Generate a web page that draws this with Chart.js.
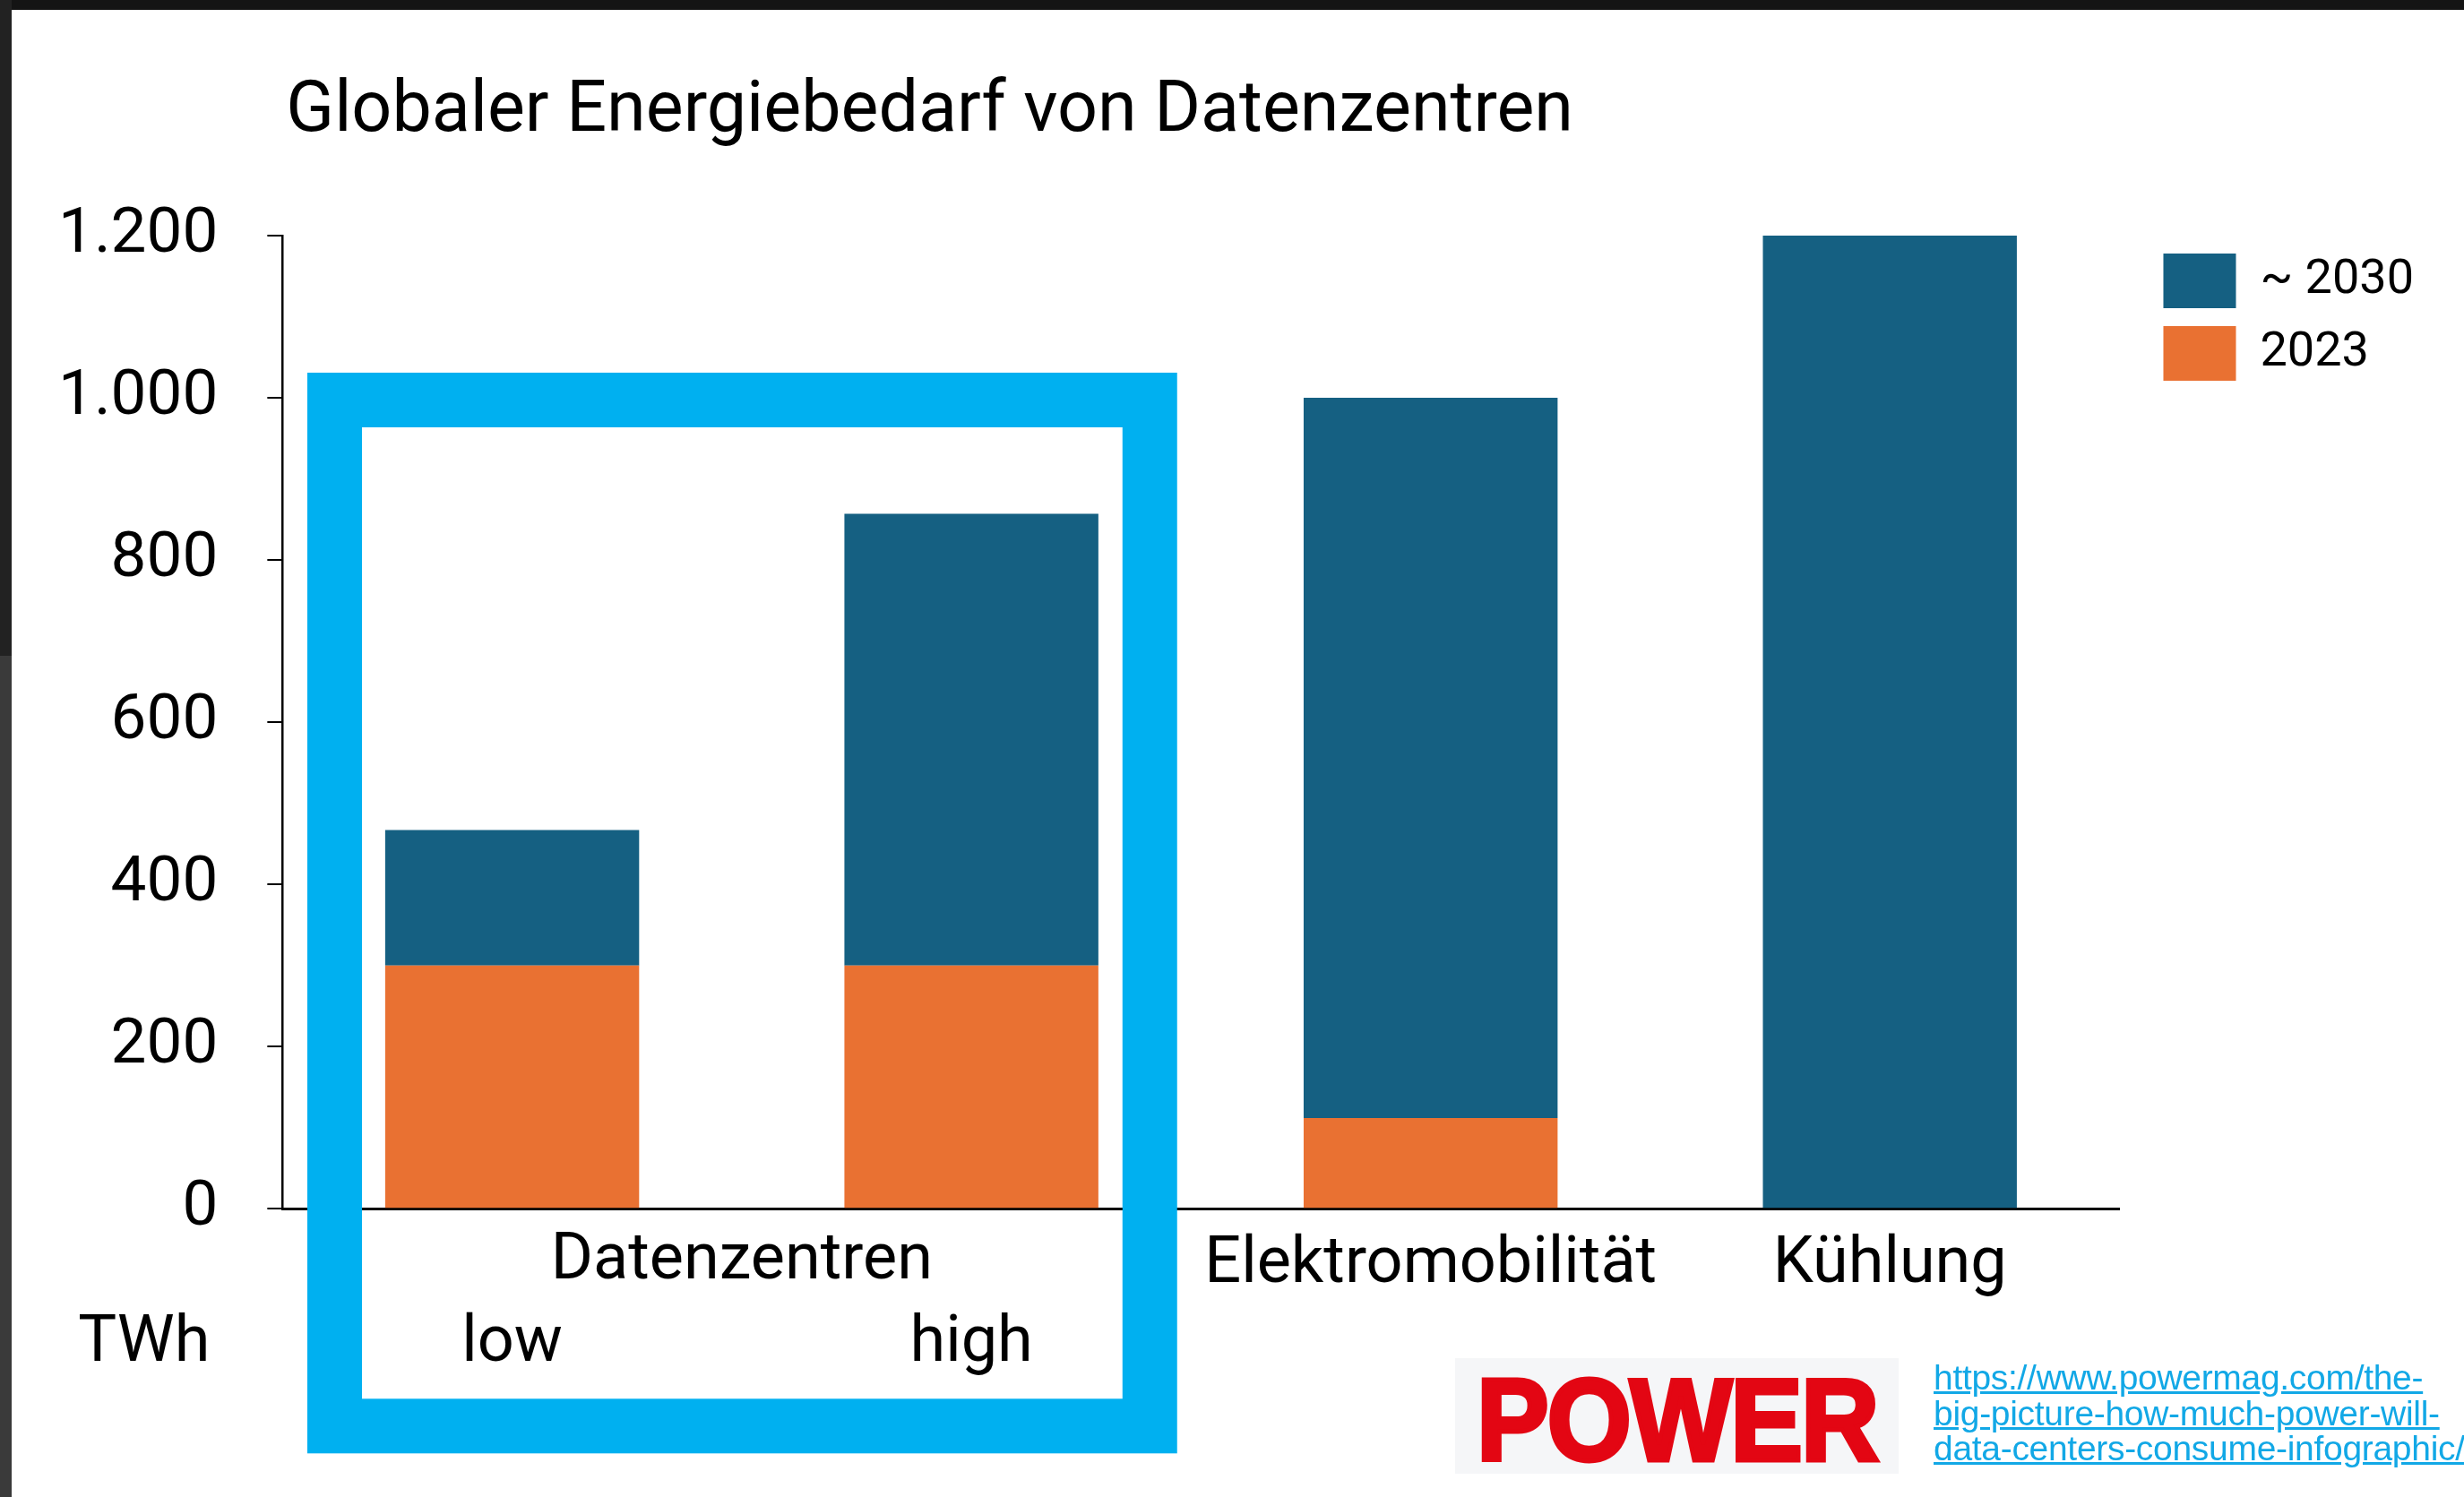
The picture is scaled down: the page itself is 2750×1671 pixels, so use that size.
<!DOCTYPE html>
<html lang="de">
<head>
<meta charset="utf-8">
<title>Globaler Energiebedarf von Datenzentren</title>
<script src="https://cdn.jsdelivr.net/npm/chart.js@4.4.1/dist/chart.umd.min.js"></script>
<style>
  html, body { margin: 0; padding: 0; background: #fff; }
  body { width: 2750px; height: 1671px; position: relative; overflow: hidden; }
  #chart { position: absolute; left: 0; top: 0; }
  .edge-top { position: absolute; left: 0; top: 0; width: 2750px; height: 11px; background: #141414; }
  .edge-left { position: absolute; left: 0; top: 0; width: 13px; height: 732px; background: #222; }
  .edge-left2 { position: absolute; left: 0; top: 732px; width: 13px; height: 939px; background: #3a3a3a; }
  #logo { position: absolute; left: 1624px; top: 1516px; width: 495px; height: 129px; background: #f5f6f8; overflow: hidden; }
  #logo span { position: absolute; left: 24px; top: -6px; font: bold 130px "Liberation Sans", Arial, sans-serif;
    color: #e30613; -webkit-text-stroke: 5px #e30613; transform: scaleX(0.93); transform-origin: left top; letter-spacing: -2px; }
  #src { position: absolute; left: 2158px; top: 1518px; font: 39px "Liberation Sans", Arial, sans-serif; line-height: 39.5px;
    color: #12a8e6; text-decoration: underline; white-space: nowrap; letter-spacing: -0.3px; }
</style>
</head>
<body>
<canvas id="chart" width="2750" height="1671"></canvas>
<div class="edge-top"></div>
<div class="edge-left"></div>
<div class="edge-left2"></div>
<div id="logo"><span>POWER</span></div>
<a id="src" href="https://www.powermag.com/the-big-picture-how-much-power-will-data-centers-consume-infographic/">https://www.powermag.com/the-<br>big-picture-how-much-power-will-<br>data-centers-consume-infographic/</a>
<script>
// === DATA ===
const title = "Globaler Energiebedarf von Datenzentren";
const categories = ["low", "high", "Elektromobilität", "Kühlung"];
const groupLabel = "Datenzentren";   // spans the first two categories
const unitLabel = "TWh";
const seriesNames = ["2023", "~ 2030"];
const values2023 = [300, 300, 112, 0];
const values2030 = [167, 557, 888, 1200]; // stacked on top of 2023
const yMax = 1200;
const yStep = 200;
// =============

const BLUE = "#156082";
const ORANGE = "#e97132";
const HIGHLIGHT = "#00b0f0";
const FONT = "Roboto";

Chart.defaults.font.family = FONT;
Chart.defaults.color = "#000";

function fmt(v) { return String(v).replace(/\B(?=(\d{3})+(?!\d))/g, "."); }

// title, group label, unit and highlight frame
const extras = {
  id: "extras",
  afterDraw(chart) {
    const { ctx, chartArea } = chart;
    const x = chart.scales.x, y = chart.scales.y;
    const catW = x.getPixelForValue(1) - x.getPixelForValue(0);
    ctx.save();

    ctx.fillStyle = "#000";
    ctx.textBaseline = "alphabetic";
    ctx.textAlign = "left";
    ctx.font = `79px ${FONT}`;
    ctx.fillText(title, chartArea.left + 4, chartArea.top - 117);

    const line1 = chartArea.bottom + 60;
    const line2 = line1 + 92;
    ctx.font = `72px ${FONT}`;
    ctx.textBaseline = "middle";
    ctx.textAlign = "center";
    ctx.fillText(groupLabel, (x.getPixelForValue(0) + x.getPixelForValue(1)) / 2, line1);
    ctx.textAlign = "right";
    ctx.fillText(unitLabel, chartArea.left - 81, line2);

    // highlight frame around the data centre bars
    const lw = 61;
    const left = x.getPixelForValue(0) - catW * 0.446;
    const right = x.getPixelForValue(1) + catW * 0.448;
    const top = y.getPixelForValue(1031);
    const bottom = chartArea.bottom + 273;
    ctx.strokeStyle = HIGHLIGHT;
    ctx.lineWidth = lw;
    ctx.strokeRect(left + lw / 2, top + lw / 2, right - left - lw, bottom - top - lw);
    ctx.restore();
  }
};

new Chart(document.getElementById("chart"), {
  type: "bar",
  data: {
    labels: categories,
    datasets: [
      { label: seriesNames[0], data: values2023, backgroundColor: ORANGE, borderWidth: 0 },
      { label: seriesNames[1], data: values2030, backgroundColor: BLUE, borderWidth: 0 }
    ]
  },
  options: {
    responsive: false,
    animation: false,
    datasets: { bar: { categoryPercentage: 1, barPercentage: 0.553 } },
    layout: { padding: { left: 10, top: 263, right: 46, bottom: 114 } },
    plugins: {
      title: { display: false },
      tooltip: { enabled: false },
      legend: {
        position: "right",
        align: "start",
        reverse: true,
        labels: { boxWidth: 81, boxHeight: 61, padding: 20, font: { size: 54 }, color: "#000" }
      }
    },
    scales: {
      x: {
        stacked: true,
        grid: { display: false },
        border: { display: true, color: "#000", width: 3 },
        ticks: {
          padding: 12,
          font: { size: 72, lineHeight: 1.22 },
          color: "#000",
          callback(value, i) { return i < 2 ? ["", categories[i]] : categories[i]; }
        }
      },
      y: {
        stacked: true,
        min: 0,
        max: yMax,
        grid: { drawOnChartArea: false, drawTicks: true, tickLength: 17, color: "#000", lineWidth: 2 },
        border: { display: true, color: "#000", width: 2.5 },
        ticks: { stepSize: yStep, padding: 55, font: { size: 71 }, color: "#000", callback: v => fmt(v) }
      },
      gap: {
        position: "right",
        display: true,
        grid: { display: false },
        border: { display: false },
        ticks: { display: false },
        afterFit(s) { s.width = 29; }
      }
    }
  },
  plugins: [extras]
});
</script>
</body>
</html>
